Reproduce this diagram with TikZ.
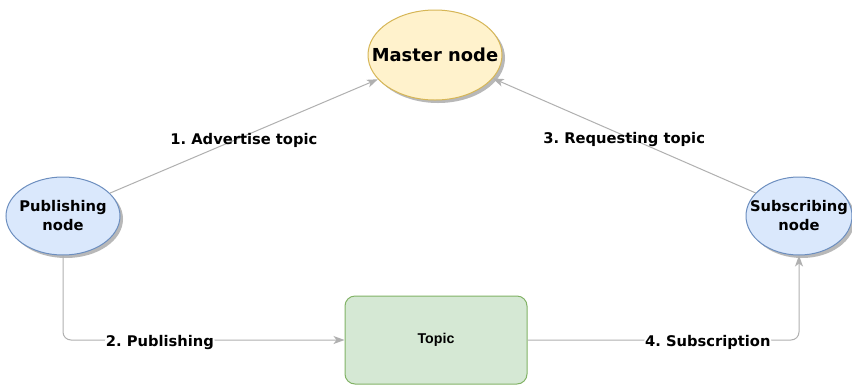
\documentclass[tikz,border=0pt]{standalone}
\usepackage{fontspec}
\setmainfont{DejaVu Sans}
\newfontfamily\topicfont{Liberation Sans}
\usetikzlibrary{shapes.geometric,shadows,arrows.meta}
\frenchspacing

\definecolor{masterfill}{HTML}{FFF2CC}
\definecolor{masterline}{HTML}{D6B656}
\definecolor{nodefill}{HTML}{DAE8FC}
\definecolor{nodeline}{HTML}{6C8EBF}
\definecolor{topicfill}{HTML}{D5E8D4}
\definecolor{topicline}{HTML}{82B366}
\definecolor{edgegray}{HTML}{B0B0B0}

\tikzset{
  shade3/.style={drop shadow={shadow xshift=3pt, shadow yshift=-3pt, fill=black!28, opacity=1}},
  masterbox/.style={ellipse, draw=masterline, fill=masterfill, line width=1pt, inner sep=0pt,
    minimum width=134pt, minimum height=90pt, shade3},
  mastertext/.style={font=\fontsize{17.9}{20}\selectfont\bfseries},
  clientbox/.style={ellipse, draw=nodeline, fill=nodefill, line width=1pt, inner sep=0pt,
    minimum height=78pt, shade3},
  clienttext/.style={align=center, font=\fontsize{14.7}{19}\selectfont\bfseries},
  topicbox/.style={rectangle, rounded corners=10pt, draw=topicline, fill=topicfill, line width=1pt,
    minimum width=182pt, minimum height=88pt, font=\topicfont\fontsize{14.2}{16}\selectfont\bfseries},
  link/.style={draw=edgegray, line width=1pt, rounded corners=8pt,
    -{Stealth[length=11pt,width=8pt,inset=3pt]}},
  tag/.style={inner sep=1pt, font=\fontsize{14.7}{17}\selectfont\bfseries},
  masktag/.style={tag, fill=white}
}

\begin{document}
\begin{tikzpicture}[x=1pt, y=-1pt]
  \useasboundingbox[fill=white] (0,0) rectangle (852,384);

  \node[masterbox, label={[mastertext]center:Master node}] (master) at (435,55) {};
  \node[clientbox, minimum width=114pt, label={[clienttext]center:Publishing\\node}] (pub) at (63,216) {};
  \node[clientbox, minimum width=106pt, label={[clienttext]center:Subscribing\\node}] (sub) at (799,216) {};
  \node[topicbox] (topic) at (436,340) {Topic};

  \draw[link] (pub.26) -- node[tag, pos=0.5, yshift=-4pt] {1. Advertise topic} (master.203);
  \draw[link] (sub.152) -- node[tag, pos=0.5, yshift=-4pt] {3. Requesting topic} (master.338);
  \draw[link] (pub.south) |- node[masktag, pos=0.672, yshift=-2pt] {2. Publishing} (topic.west);
  \draw[link] (topic.east) -| node[masktag, pos=0.332, yshift=-2pt] {4. Subscription} (sub.south);
\end{tikzpicture}
\end{document}
